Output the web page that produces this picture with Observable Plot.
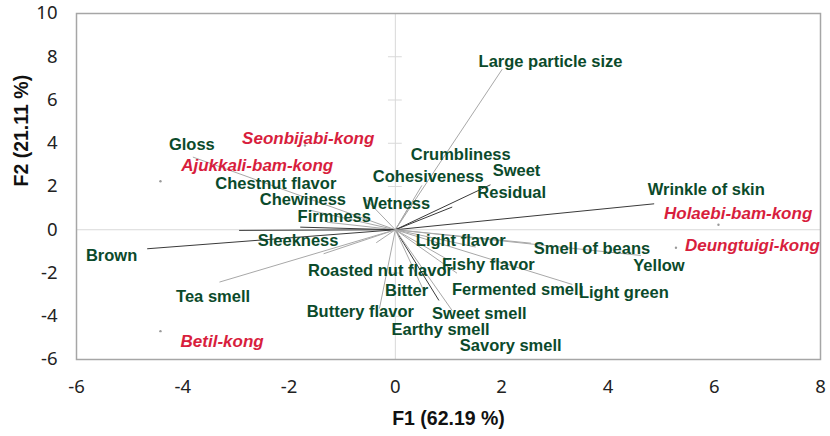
<!DOCTYPE html>
<html>
<head>
<meta charset="utf-8">
<script src="https://cdn.jsdelivr.net/npm/d3@7"></script>
<script src="https://cdn.jsdelivr.net/npm/@observablehq/plot@0.6"></script>
<style>
  html, body { margin: 0; padding: 0; background: #fff; }
  #chart { width: 830px; height: 436px; }
</style>
</head>
<body>
<div id="chart"></div>
<script>
// ---- Data: sensory attribute vectors (F1, F2 loadings scaled) ----
const varNames = [
  "Large particle size", "Crumbliness", "Cohesiveness", "Sweet", "Residual", "Wetness",
  "Wrinkle of skin", "Gloss", "Chestnut flavor", "Chewiness", "Firmness", "Sleekness",
  "Brown", "Tea smell", "Roasted nut flavor", "Bitter", "Buttery flavor", "Earthy smell",
  "Sweet smell", "Savory smell", "Fermented smell", "Fishy flavor", "Light flavor",
  "Smell of beans", "Yellow", "Light green"
];
const varF1 = [2.01, 0.50, 0.30, 1.79, 1.07, -0.55, 4.87, -3.81, -1.60, -1.29, -1.79, -2.94,
  -4.67, -3.31, -1.35, -0.36, -0.30, 0.82, 1.07, 0.55, 1.00, 1.16, 1.51, 2.55, 4.62, 3.33];
const varF2 = [7.42, 2.05, 1.25, 2.08, 1.05, 1.40, 1.20, 3.36, 0.90, 0.35, 0.12, -0.03,
  -0.88, -2.42, -1.11, -0.60, -3.65, -3.27, -3.74, -2.90, -1.40, -2.01, -0.80, -0.62, -1.19, -2.53];
// label anchor positions (data units) as placed in the original biplot
const varLabelF1 = [2.92, 1.23, 0.62, 2.28, 2.19, 0.02, 5.85, -3.83, -2.25, -1.74, -1.15, -1.83,
  -5.34, -3.43, -0.28, 0.21, -0.66, 0.85, 1.58, 2.17, 2.30, 1.75, 1.23, 3.70, 4.96, 4.30];
const varLabelF2 = [7.75, 3.49, 2.47, 2.75, 1.73, 1.22, 1.87, 3.95, 2.14, 1.40, 0.62, -0.50,
  -1.19, -3.09, -1.88, -2.81, -3.78, -4.62, -3.88, -5.36, -2.77, -1.61, -0.50, -0.87, -1.65, -2.90];

// ---- Data: samples (observations) ----
const obsNames = ["Seonbijabi-kong", "Ajukkali-bam-kong", "Betil-kong", "Holaebi-bam-kong", "Deungtuigi-kong"];
const obsF1 = [-1.70, -4.42, -4.42, 6.08, 5.28];
const obsF2 = [3.90, 2.24, -4.69, 0.23, -0.83];
const obsLabelF1 = [-1.64, -2.60, -3.26, 6.45, 6.72];
const obsLabelF2 = [4.23, 2.98, -5.17, 0.76, -0.73];

// ---- Axes ----
const xTicks = [-6, -4, -2, 0, 2, 4, 6, 8];
const yTicks = [-6, -4, -2, 0, 2, 4, 6, 8, 10];
const xTitle = "F1 (62.19 %)";
const yTitle = "F2 (21.11 %)";

// ---- Build tables ----
const vars = varNames.map((name, i) => ({
  name, x: varF1[i], y: varF2[i], lx: varLabelF1[i], ly: varLabelF2[i]
}));
const obs = obsNames.map((name, i) => ({
  name, x: obsF1[i], y: obsF2[i], lx: obsLabelF1[i], ly: obsLabelF2[i]
}));
const yInnerTicks = yTicks.filter(t => t !== 0 && t !== -6 && t !== 10);

const darkVectors = new Set(["Brown", "Firmness", "Sweet", "Residual", "Earthy smell", "Wrinkle of skin", "Sleekness"]);
const fmt = d => String(d);
const numFont = "'Noto Sans', 'Liberation Sans', sans-serif";
const lblFont = "'Liberation Sans', Arial, sans-serif";

const chart = Plot.plot({
  width: 830,
  height: 436,
  marginLeft: 76,
  marginRight: 10,
  marginTop: 13,
  marginBottom: 77,
  style: { background: "#fff", overflow: "visible" },
  x: { domain: [-6, 8], ticks: xTicks },
  y: { domain: [-6, 10], ticks: yTicks },
  marks: [
    // zero lines
    Plot.ruleX([0], { stroke: "#d9d9d9", strokeWidth: 1 }),
    Plot.ruleY([0], { stroke: "#d9d9d9", strokeWidth: 1 }),
    Plot.ruleY(yInnerTicks, { x1: -0.13, x2: 0.13, stroke: "#d9d9d9", strokeWidth: 1 }),
    // frame
    Plot.frame({ stroke: "#a6a6a6", strokeWidth: 1.5 }),
    // vectors
    Plot.link(vars, {
      x1: () => 0, y1: () => 0, x2: "x", y2: "y",
      stroke: d => darkVectors.has(d.name) ? "#3a3a3a" : "#a8a8a8",
      strokeWidth: 1
    }),
    // observation points
    Plot.dot(obs, { x: "x", y: "y", r: 1.2, fill: "#9a9a9a", stroke: "none" }),
    // variable labels
    Plot.text(vars, {
      x: "lx", y: "ly", text: "name",
      fill: "#0b4a2b", fontSize: 16.5, fontWeight: "bold", fontFamily: lblFont,
      textAnchor: "middle", lineAnchor: "middle"
    }),
    // observation labels
    Plot.text(obs, {
      x: "lx", y: "ly", text: "name",
      fill: "#d81e3d", fontSize: 17, fontStyle: "italic", fontWeight: "bold", fontFamily: lblFont,
      textAnchor: "middle", lineAnchor: "middle"
    }),
    // axes
    Plot.axisX(xTicks, {
      tickSize: 0, tickPadding: 20, tickFormat: fmt, label: null,
      fontSize: 18.5, fontFamily: numFont, fill: "#222"
    }),
    Plot.axisY(yTicks, {
      tickSize: 0, tickPadding: 19, tickFormat: fmt, label: null,
      fontSize: 18.5, fontFamily: numFont, fill: "#222"
    }),
    // axis titles
    Plot.text([xTitle], {
      frameAnchor: "bottom", dy: 59, text: d => d,
      fontSize: 19.5, fontWeight: "bold", fontFamily: lblFont, fill: "#111",
      lineAnchor: "middle"
    }),
    Plot.text([yTitle], {
      frameAnchor: "left", dx: -55, text: d => d, rotate: -90,
      fontSize: 19.5, fontWeight: "bold", fontFamily: lblFont, fill: "#111",
      lineAnchor: "middle"
    })
  ]
});
document.getElementById("chart").appendChild(chart);
</script>
</body>
</html>
